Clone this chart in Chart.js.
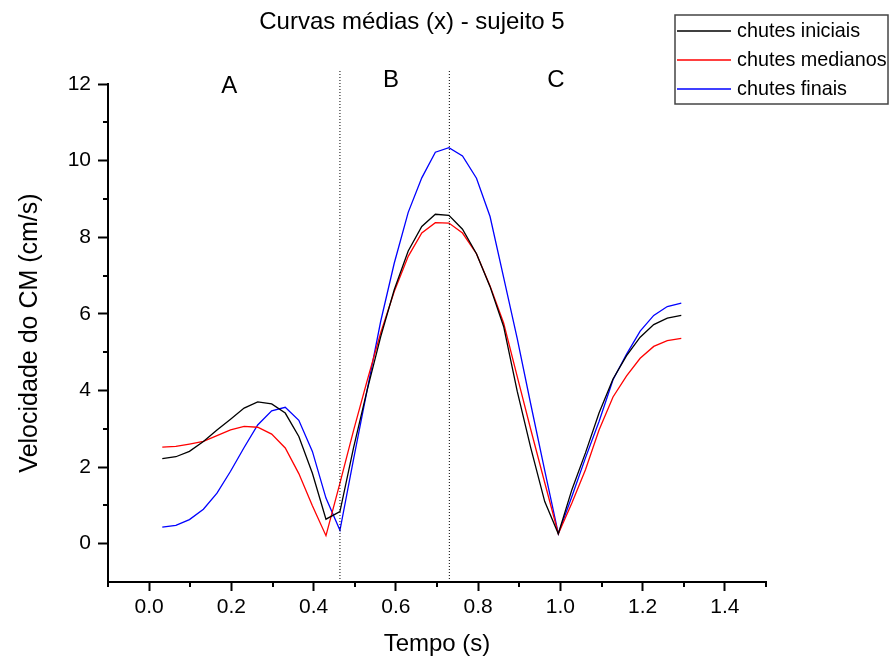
<!DOCTYPE html>
<html lang="pt">
<head>
<meta charset="utf-8">
<title>Curvas médias (x) - sujeito 5</title>
<script src="https://cdn.jsdelivr.net/npm/chart.js@4.4.1/dist/chart.umd.min.js"></script>
<style>
  html, body { margin: 0; padding: 0; background: #fff; }
  #wrap { width: 891px; height: 663px; }
</style>
</head>
<body>
<div id="wrap"><canvas id="chart" width="891" height="663"></canvas></div>
<script>
"use strict";

// ======= Data =======
const TIME = [
  0.032, 0.065, 0.098, 0.132, 0.165, 0.198, 0.231, 0.264, 0.298, 0.331,
  0.364, 0.397, 0.430, 0.464, 0.497, 0.530, 0.563, 0.596, 0.630, 0.663,
  0.696, 0.729, 0.762, 0.796, 0.829, 0.862, 0.895, 0.928, 0.962, 0.995,
  1.028, 1.061, 1.094, 1.128, 1.161, 1.194, 1.227, 1.260, 1.294
];
const INICIAIS = [
  2.22, 2.27, 2.41, 2.67, 2.97, 3.25, 3.54, 3.70, 3.65, 3.41,
  2.80, 1.84, 0.64, 0.84, 2.50, 4.00, 5.40, 6.63, 7.64, 8.28,
  8.60, 8.57, 8.21, 7.57, 6.71, 5.67, 3.98, 2.50, 1.10, 0.26,
  1.41, 2.37, 3.41, 4.30, 4.91, 5.39, 5.72, 5.89, 5.96
];
const MEDIANOS = [
  2.52, 2.54, 2.60, 2.67, 2.82, 2.97, 3.06, 3.04, 2.86, 2.50,
  1.83, 0.99, 0.21, 1.58, 2.95, 4.25, 5.50, 6.58, 7.50, 8.11,
  8.38, 8.37, 8.11, 7.57, 6.73, 5.76, 4.37, 2.98, 1.59, 0.26,
  1.06, 1.93, 2.97, 3.83, 4.38, 4.84, 5.15, 5.30, 5.36
];
const FINAIS = [
  0.43, 0.48, 0.63, 0.90, 1.32, 1.89, 2.51, 3.10, 3.47, 3.56,
  3.22, 2.41, 1.19, 0.35, 2.20, 4.00, 5.80, 7.32, 8.65, 9.55,
  10.22, 10.34, 10.12, 9.54, 8.54, 6.95, 5.36, 3.64, 1.91, 0.26,
  1.23, 2.24, 3.19, 4.28, 4.95, 5.55, 5.96, 6.19, 6.28
];
const SERIES_NAMES = ["chutes iniciais", "chutes medianos", "chutes finais"];
const SERIES_COLORS = ["#000000", "#ff0000", "#0000ff"];

// phase boundaries (dotted lines) and phase labels
const PHASE_LIMITS = [0.464, 0.730];
const PHASE_LABELS = ["A", "B", "C"];
const PHASE_LABEL_X = [0.195, 0.588, 0.989];
const PHASE_LABEL_Y = [11.95, 12.1, 12.1];

// axis ticks
const X_TICKS = [-0.1, 0.0, 0.1, 0.2, 0.3, 0.4, 0.5, 0.6, 0.7, 0.8, 0.9, 1.0, 1.1, 1.2, 1.3, 1.4, 1.5];
const X_LABELED = [0.0, 0.2, 0.4, 0.6, 0.8, 1.0, 1.2, 1.4];
const Y_TICKS = [-1, 0, 1, 2, 3, 4, 5, 6, 7, 8, 9, 10, 11, 12];
const Y_LABELED = [0, 2, 4, 6, 8, 10, 12];
const Y_MINOR = [1, 3, 5, 7, 9, 11];

const TITLE = "Curvas médias (x) - sujeito 5";
const X_TITLE = "Tempo (s)";
const Y_TITLE = "Velocidade do CM (cm/s)";

// ======= Helpers =======
const FONT = '"Liberation Sans", Arial, sans-serif';
const near = (a, b) => Math.abs(a - b) < 1e-6;
const isLabeled = (list, v) => list.some(t => near(t, v));
const pts = vals => TIME.map((t, i) => ({ x: t, y: vals[i] }));
const MINOR_LEN = 5;

// Extra drawing: minor ticks, title, phase letters, legend box
const decor = {
  id: "decor",
  afterDraw(chart) {
    const { ctx, scales: { x, y } } = chart;
    ctx.save();

    // minor ticks
    ctx.strokeStyle = "#000";
    ctx.lineWidth = 2;
    X_TICKS.filter(v => !isLabeled(X_LABELED, v)).forEach(v => {
      const px = Math.round(x.getPixelForValue(v));
      ctx.beginPath();
      ctx.moveTo(px, x.top);
      ctx.lineTo(px, x.top + MINOR_LEN);
      ctx.stroke();
    });
    Y_MINOR.forEach(v => {
      const py = Math.round(y.getPixelForValue(v));
      ctx.beginPath();
      ctx.moveTo(y.right, py);
      ctx.lineTo(y.right - MINOR_LEN, py);
      ctx.stroke();
    });

    // title
    ctx.fillStyle = "#000";
    ctx.textAlign = "center";
    ctx.textBaseline = "middle";
    ctx.font = `24px ${FONT}`;
    ctx.fillText(TITLE, 412, 22);

    // phase letters
    ctx.font = `24px ${FONT}`;
    PHASE_LABELS.forEach((s, i) => {
      ctx.fillText(s, x.getPixelForValue(PHASE_LABEL_X[i]), y.getPixelForValue(PHASE_LABEL_Y[i]));
    });

    // legend
    const lx = 675, ly = 15, lw = 213, lh = 89;
    ctx.strokeStyle = "#444";
    ctx.lineWidth = 1.5;
    ctx.strokeRect(lx, ly, lw, lh);
    ctx.font = `19.8px ${FONT}`;
    ctx.textAlign = "left";
    const rows = [31, 60, 89];
    SERIES_NAMES.forEach((name, i) => {
      ctx.strokeStyle = SERIES_COLORS[i];
      ctx.lineWidth = 1.3;
      ctx.beginPath();
      ctx.moveTo(677, rows[i]);
      ctx.lineTo(731, rows[i]);
      ctx.stroke();
      ctx.fillStyle = "#000";
      ctx.fillText(name, 737, rows[i] + 1);
    });

    ctx.restore();
  }
};

// ======= Datasets =======
const curveSets = [INICIAIS, MEDIANOS, FINAIS].map((vals, i) => ({
  label: SERIES_NAMES[i],
  data: pts(vals),
  borderColor: SERIES_COLORS[i],
  borderWidth: 1.3,
  pointRadius: 0,
  tension: 0,
  fill: false
}));
const limitSets = PHASE_LIMITS.map(t => ({
  label: "limite",
  data: [{ x: t, y: -1 }, { x: t, y: 12.37 }],
  borderColor: "#000",
  borderWidth: 1,
  borderDash: [1, 2],
  pointRadius: 0,
  clip: false
}));

// ======= Chart =======
new Chart(document.getElementById("chart").getContext("2d"), {
  type: "line",
  data: { datasets: [...limitSets, ...curveSets] },
  options: {
    responsive: false,
    animation: false,
    devicePixelRatio: 1,
    layout: { padding: { top: 84, right: 125, left: 0, bottom: 0 } },
    plugins: {
      legend: { display: false },
      title: { display: false },
      tooltip: { enabled: false }
    },
    scales: {
      x: {
        type: "linear",
        min: -0.1,
        max: 1.5,
        afterFit: s => { s.height = 81; },
        afterBuildTicks: s => { s.ticks = X_TICKS.map(v => ({ value: v })); },
        border: { display: true, color: "#000", width: 2 },
        grid: {
          drawOnChartArea: false,
          tickLength: 9,
          tickWidth: 2,
          tickColor: c => (c.tick && isLabeled(X_LABELED, c.tick.value)) ? "#000" : "rgba(0,0,0,0)"
        },
        ticks: {
          autoSkip: false,
          maxRotation: 0,
          padding: 4,
          color: "#000",
          font: { family: FONT, size: 21 },
          callback: v => isLabeled(X_LABELED, v) ? v.toFixed(1) : ""
        },
        title: {
          display: true,
          text: X_TITLE,
          color: "#000",
          font: { family: FONT, size: 24 },
          padding: { top: 0, bottom: 4 }
        }
      },
      y: {
        min: -1,
        max: 12,
        afterFit: s => { s.width = 108; },
        afterBuildTicks: s => { s.ticks = Y_TICKS.map(v => ({ value: v })); },
        border: { display: true, color: "#000", width: 2 },
        grid: {
          drawOnChartArea: false,
          tickLength: 10,
          tickWidth: 2,
          tickColor: c => (c.tick && isLabeled(Y_LABELED, c.tick.value)) ? "#000" : "rgba(0,0,0,0)"
        },
        ticks: {
          autoSkip: false,
          padding: 7,
          color: "#000",
          font: { family: FONT, size: 21 },
          callback: v => isLabeled(Y_LABELED, v) ? String(v) : ""
        },
        title: {
          display: true,
          text: Y_TITLE,
          color: "#000",
          font: { family: FONT, size: 25 },
          padding: { top: 15, bottom: 0 }
        }
      }
    }
  },
  plugins: [decor]
});
</script>
</body>
</html>
